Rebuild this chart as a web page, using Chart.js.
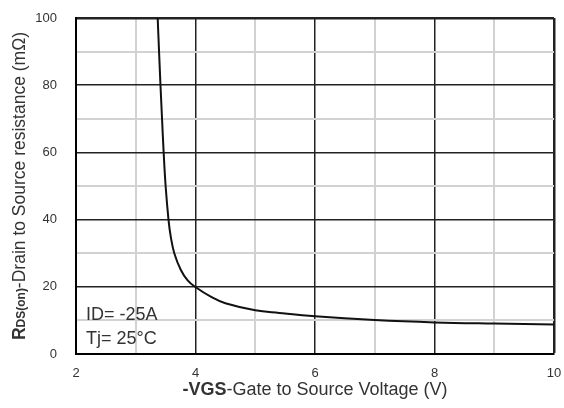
<!DOCTYPE html>
<html>
<head>
<meta charset="utf-8">
<script src="https://cdn.jsdelivr.net/npm/chart.js@4"></script>
<style>
  html, body { margin: 0; padding: 0; background: #fff; }
  #wrap { width: 564px; height: 408px; }
</style>
</head>
<body>
<div id="wrap"><canvas id="chart" width="564" height="408"></canvas></div>
<script>
// values
const vgs = [3.367, 3.390, 3.414, 3.440, 3.467, 3.500, 3.548, 3.585, 3.645, 3.755, 3.865, 3.992, 4.27, 4.5, 5.0, 5.4, 6.0, 7.0, 8.0, 9.0, 10.0];
const rdson = [100, 90, 80, 70, 60, 50, 40, 35, 30, 25, 22, 20, 16.9, 15.1, 13.0, 12.2, 11.2, 10.1, 9.4, 9.05, 8.8];
const xTicks = [2, 4, 6, 8, 10];
const yTicks = [0, 20, 40, 60, 80, 100];
const notes = ["ID= -25A", "Tj= 25°C"];

const FONT = "'Liberation Sans', Arial, sans-serif";

// axis titles with mixed bold parts + the condition notes
const textPlugin = {
  id: "texts",
  afterDraw(chart) {
    const c = chart.ctx;
    const a = chart.chartArea;
    c.save();
    c.fillStyle = "#333";
    c.textBaseline = "middle";

    // x title
    const xp = [["bold 18px " + FONT, "-VGS"], ["18px " + FONT, "-Gate to Source Voltage (V)"]];
    let w = 0;
    xp.forEach(p => { c.font = p[0]; w += c.measureText(p[1]).width; });
    let x = (a.left + a.right) / 2 - w / 2;
    xp.forEach(p => { c.font = p[0]; c.textAlign = "left"; c.fillText(p[1], x, 390); x += c.measureText(p[1]).width; });

    // y title, rotated
    const yp = [["bold 17.5px " + FONT, "R", 0], ["bold 12px " + FONT, "DS(on)", 2], ["17.5px " + FONT, "-Drain to Source resistance (mΩ)", 0]];
    w = 0;
    yp.forEach(p => { c.font = p[0]; w += c.measureText(p[1]).width; });
    c.translate(20, (a.top + a.bottom) / 2);
    c.rotate(-Math.PI / 2);
    x = -w / 2;
    yp.forEach(p => { c.font = p[0]; c.fillText(p[1], x, p[2]); x += c.measureText(p[1]).width; });
    c.restore();

    // notes
    c.save();
    c.fillStyle = "#333";
    c.font = "18px " + FONT;
    c.textBaseline = "middle";
    c.textAlign = "left";
    c.fillText(notes[0], 86, 315);
    c.fillText(notes[1], 86, 339);
    c.restore();
  }
};

const isMajor = (v, step) => Math.abs(v % step) < 1e-6;

new Chart(document.getElementById("chart").getContext("2d"), {
  type: "scatter",
  data: {
    datasets: [{
      data: vgs.map((v, i) => ({ x: v, y: rdson[i] })),
      showLine: true,
      borderColor: "#111",
      borderWidth: 2,
      pointRadius: 0,
      tension: 0.4
    }]
  },
  options: {
    responsive: false,
    animation: false,
    layout: { padding: { top: 18, right: 10, left: 0, bottom: 0 } },
    plugins: { legend: { display: false }, tooltip: { enabled: false } },
    scales: {
      x: {
        type: "linear",
        min: 2, max: 10,
        afterFit(s) { s.height = 54; s.paddingLeft = 0; s.paddingRight = 0; },
        ticks: {
          stepSize: 1,
          padding: 12,
          color: "#333",
          font: { family: FONT, size: 13 },
          callback: v => xTicks.includes(v) ? String(v) : ""
        },
        grid: {
          drawTicks: false,
          color: ctx => isMajor(ctx.tick.value, 2) ? "#222" : "#d2d2d2",
          lineWidth: ctx => ctx.tick.value === 10 ? 2.5 : (isMajor(ctx.tick.value, 2) ? 1.5 : 2)
        },
        border: { display: true, color: "#000", width: 2 }
      },
      y: {
        type: "linear",
        min: 0, max: 100,
        afterFit(s) { s.width = 76; s.paddingTop = 0; s.paddingBottom = 0; },
        ticks: {
          stepSize: 10,
          padding: 19,
          color: "#333",
          font: { family: FONT, size: 13 },
          callback: v => yTicks.includes(v) ? String(v) : ""
        },
        grid: {
          drawTicks: false,
          color: ctx => isMajor(ctx.tick.value, 20) ? "#222" : "#d2d2d2",
          lineWidth: ctx => ctx.tick.value === 100 ? 2.5 : (isMajor(ctx.tick.value, 20) ? 1.5 : 2)
        },
        border: { display: true, color: "#000", width: 2 }
      }
    }
  },
  plugins: [textPlugin]
});
</script>
</body>
</html>
